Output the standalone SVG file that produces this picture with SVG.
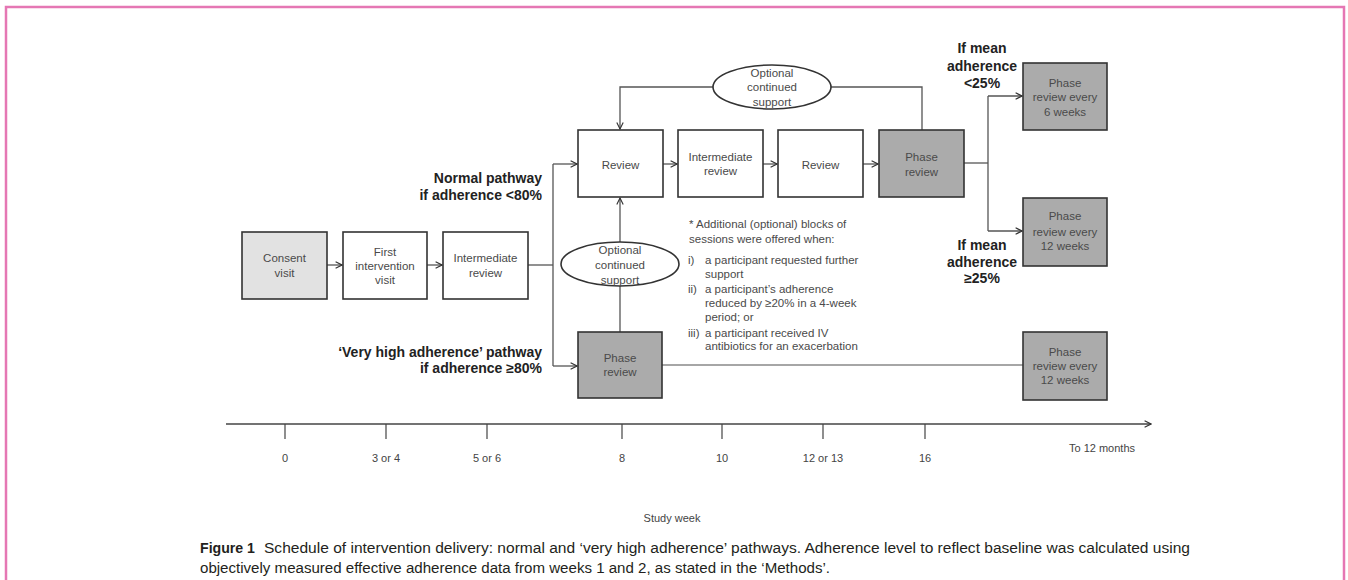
<svg xmlns="http://www.w3.org/2000/svg" width="1348" height="580" viewBox="0 0 1348 580">
<defs>
<marker id="arr" viewBox="0 0 10 10" refX="9" refY="5" markerWidth="8" markerHeight="8" markerUnits="userSpaceOnUse" orient="auto">
<path d="M1,1 L9,5 L1,9" fill="none" stroke="#333" stroke-width="1.4"/>
</marker>
</defs>
<style>
.box{stroke:#333;stroke-width:1.6}
.w{fill:#fff}
.lg{fill:#e2e2e2}
.dg{fill:#ababab}
.t{font-family:"Liberation Sans",Arial,sans-serif;font-size:11.5px;fill:#4a4a4a;text-anchor:middle}
.n{font-family:"Liberation Sans",Arial,sans-serif;font-size:11.5px;fill:#4a4a4a}
.b{font-family:"Liberation Sans",Arial,sans-serif;font-size:14px;font-weight:bold;fill:#222}
.ax{font-family:"Liberation Sans",Arial,sans-serif;font-size:11px;fill:#444;text-anchor:middle}
.c{fill:none;stroke:#555;stroke-width:1.3}
.ell{fill:#fff;stroke:#333;stroke-width:1.6}
.cap{font-family:"Liberation Sans",Arial,sans-serif;font-size:14px;fill:#231f20}
</style>
<rect width="1348" height="580" fill="#fff"/>
<path d="M6,582 V7 H1344 V582" fill="none" stroke="#e577b4" stroke-width="2.5"/>

<g id="connectors">
<line class="c" x1="327" y1="265" x2="342" y2="265" marker-end="url(#arr)"/>
<line class="c" x1="427" y1="265" x2="442" y2="265" marker-end="url(#arr)"/>
<polyline class="c" points="528,265 553,265"/>
<polyline class="c" points="553,164 553,366"/>
<line class="c" x1="553" y1="164" x2="577" y2="164" marker-end="url(#arr)"/>
<line class="c" x1="553" y1="366" x2="577" y2="366" marker-end="url(#arr)"/>
<line class="c" x1="663" y1="164" x2="677" y2="164" marker-end="url(#arr)"/>
<line class="c" x1="763" y1="164" x2="777" y2="164" marker-end="url(#arr)"/>
<line class="c" x1="863" y1="164" x2="878" y2="164" marker-end="url(#arr)"/>
<polyline class="c" points="964,163 988,163"/>
<polyline class="c" points="988,96 988,231"/>
<line class="c" x1="988" y1="96" x2="1022" y2="96" marker-end="url(#arr)"/>
<line class="c" x1="988" y1="231" x2="1022" y2="231" marker-end="url(#arr)"/>
<polyline class="c" points="922,130 922,87 831,87"/>
<polyline class="c" points="713,87 620,87 620,129" marker-end="url(#arr)"/>
<polyline class="c" points="620,332 620,286"/>
<line class="c" x1="620" y1="243" x2="620" y2="198" marker-end="url(#arr)"/>
<polyline class="c" points="662,365 1023,365" style="stroke:#888"/>
</g>

<g id="consent"><rect class="box lg" x="242" y="232" width="85" height="67"/><text class="t" x="284.5" y="262">Consent</text><text class="t" x="284.5" y="277">visit</text></g>
<g id="first"><rect class="box w" x="343" y="232" width="84" height="67"/><text class="t" x="385" y="256">First</text><text class="t" x="385" y="270">intervention</text><text class="t" x="385" y="284">visit</text></g>
<g id="inter1"><rect class="box w" x="443" y="232" width="85" height="67"/><text class="t" x="485.5" y="262">Intermediate</text><text class="t" x="485.5" y="277">review</text></g>

<g id="review1"><rect class="box w" x="578" y="130" width="85" height="67"/><text class="t" x="620.5" y="169">Review</text></g>
<g id="inter2"><rect class="box w" x="678" y="130" width="85" height="67"/><text class="t" x="720.5" y="161">Intermediate</text><text class="t" x="720.5" y="175">review</text></g>
<g id="review2"><rect class="box w" x="778" y="130" width="85" height="67"/><text class="t" x="820.5" y="169">Review</text></g>
<g id="phase1"><rect class="box dg" x="879" y="130" width="85" height="67"/><text class="t" x="921.5" y="161">Phase</text><text class="t" x="921.5" y="176">review</text></g>

<g id="ellipse-top"><ellipse class="ell" cx="772" cy="87" rx="59" ry="22"/><text class="t" x="772" y="77">Optional</text><text class="t" x="772" y="91">continued</text><text class="t" x="772" y="106">support</text></g>
<g id="ellipse-low"><ellipse class="ell" cx="620" cy="264" rx="59" ry="22"/><text class="t" x="620" y="254">Optional</text><text class="t" x="620" y="269">continued</text><text class="t" x="620" y="284">support</text></g>

<g id="phase-low"><rect class="box dg" x="578" y="332" width="84" height="66"/><text class="t" x="620" y="362">Phase</text><text class="t" x="620" y="376">review</text></g>

<g id="phase6"><rect class="box dg" x="1023" y="63" width="84" height="67"/><text class="t" x="1065" y="87">Phase</text><text class="t" x="1065" y="101">review every</text><text class="t" x="1065" y="116">6 weeks</text></g>
<g id="phase12a"><rect class="box dg" x="1023" y="198" width="84" height="68"/><text class="t" x="1065" y="220">Phase</text><text class="t" x="1065" y="236">review every</text><text class="t" x="1065" y="250">12 weeks</text></g>
<g id="phase12b"><rect class="box dg" x="1023" y="332" width="84" height="68"/><text class="t" x="1065" y="356">Phase</text><text class="t" x="1065" y="370">review every</text><text class="t" x="1065" y="384">12 weeks</text></g>

<g id="labels">
<text class="b" x="542" y="183" text-anchor="end">Normal pathway</text>
<text class="b" x="542" y="200" text-anchor="end">if adherence &lt;80%</text>
<text class="b" x="542" y="357" text-anchor="end">‘Very high adherence’ pathway</text>
<text class="b" x="542" y="373" text-anchor="end">if adherence ≥80%</text>
<text class="b" x="982" y="53" text-anchor="middle">If mean</text>
<text class="b" x="982" y="71" text-anchor="middle">adherence</text>
<text class="b" x="982" y="88" text-anchor="middle">&lt;25%</text>
<text class="b" x="982" y="250" text-anchor="middle">If mean</text>
<text class="b" x="982" y="267" text-anchor="middle">adherence</text>
<text class="b" x="982" y="283" text-anchor="middle">≥25%</text>
</g>

<g id="notes">
<text class="n" x="689" y="228">* Additional (optional) blocks of</text>
<text class="n" x="689" y="243">sessions were offered when:</text>
<text class="n" x="688" y="264">i)</text><text class="n" x="705" y="264">a participant requested further</text>
<text class="n" x="705" y="278">support</text>
<text class="n" x="688" y="293">ii)</text><text class="n" x="705" y="293">a participant’s adherence</text>
<text class="n" x="705" y="307">reduced by ≥20% in a 4-week</text>
<text class="n" x="705" y="321">period; or</text>
<text class="n" x="688" y="337">iii)</text><text class="n" x="705" y="337">a participant received IV</text>
<text class="n" x="705" y="350">antibiotics for an exacerbation</text>
</g>

<g id="timeline">
<line x1="226" y1="424" x2="1151" y2="424" stroke="#444" stroke-width="1.3" marker-end="url(#arr)"/>
<g stroke="#444" stroke-width="1.2">
<line x1="285" y1="424" x2="285" y2="439"/>
<line x1="386" y1="424" x2="386" y2="439"/>
<line x1="487" y1="424" x2="487" y2="439"/>
<line x1="622" y1="424" x2="622" y2="439"/>
<line x1="722" y1="424" x2="722" y2="439"/>
<line x1="823" y1="424" x2="823" y2="439"/>
<line x1="925" y1="424" x2="925" y2="439"/>
</g>
<text class="ax" x="285" y="462">0</text>
<text class="ax" x="386" y="462">3 or 4</text>
<text class="ax" x="487" y="462">5 or 6</text>
<text class="ax" x="622" y="462">8</text>
<text class="ax" x="722" y="462">10</text>
<text class="ax" x="823" y="462">12 or 13</text>
<text class="ax" x="925" y="462">16</text>
<text class="ax" x="1102" y="452">To 12 months</text>
<text class="ax" x="672" y="522">Study week</text>
</g>

<g id="caption">
<text class="cap" x="200" y="553" font-weight="bold" textLength="55" lengthAdjust="spacingAndGlyphs">Figure 1</text>
<text class="cap" x="264" y="553" textLength="926" lengthAdjust="spacingAndGlyphs">Schedule of intervention delivery: normal and ‘very high adherence’ pathways. Adherence level to reflect baseline was calculated using</text>
<text class="cap" x="200" y="573" textLength="630" lengthAdjust="spacingAndGlyphs">objectively measured effective adherence data from weeks 1 and 2, as stated in the ‘Methods’.</text>
</g>
</svg>
